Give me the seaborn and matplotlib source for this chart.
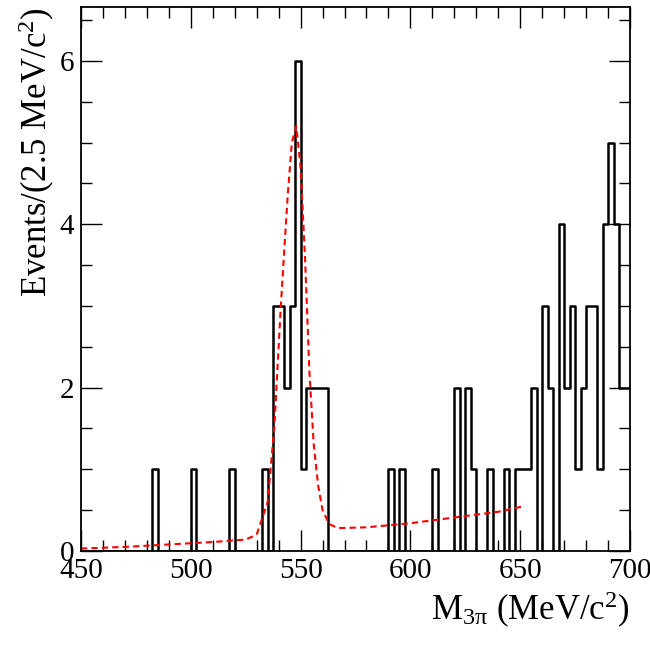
import numpy as np
import pandas as pd
import matplotlib
matplotlib.use("Agg")
import matplotlib.pyplot as plt
import seaborn as sns
from matplotlib.ticker import MultipleLocator

sns.set_style("ticks")
plt.rcParams['font.family'] = ['Liberation Serif', 'DejaVu Serif']
plt.rcParams['mathtext.fontset'] = 'custom'
plt.rcParams['mathtext.rm'] = 'Liberation Serif'
plt.rcParams['mathtext.it'] = 'Liberation Serif:italic'
for k in ['text.color', 'axes.labelcolor', 'xtick.color', 'ytick.color', 'axes.edgecolor']:
    plt.rcParams[k] = 'black'

# bin left edges (MeV) with non-zero counts, bin width 2.5
bin_lo = [482.5, 500, 517.5, 532.5, 537.5, 540, 542.5, 545, 547.5, 550,
          552.5, 555, 557.5, 560, 590, 595, 610, 620, 625, 627.5, 635,
          642.5, 647.5, 650, 652.5, 655, 660, 662.5, 667.5, 670, 672.5,
          675, 677.5, 680, 682.5, 685, 687.5, 690, 692.5, 695, 697.5]
counts = [1, 1, 1, 1, 3, 3, 2, 3, 6, 1,
          2, 2, 2, 2, 1, 1, 1, 2, 2, 1, 1,
          1, 1, 1, 1, 2, 3, 2, 4, 2, 3,
          1, 2, 3, 3, 1, 4, 5, 4, 2, 2]

fit_x = [450, 470, 490, 510, 525, 530, 535, 538, 541, 544, 546, 548, 550,
         552, 554, 556, 558, 560, 563, 567, 580, 600, 620, 640, 652]
fit_y = [0.03, 0.05, 0.08, 0.11, 0.14, 0.2, 0.6, 1.5, 3.0, 4.3, 5.0, 5.2, 4.7,
         3.6, 2.2, 1.3, 0.8, 0.5, 0.33, 0.28, 0.29, 0.34, 0.41, 0.48, 0.55]

df = pd.DataFrame({"m": np.array(bin_lo) + 1.25, "w": counts})

fig = plt.figure(figsize=(6.5, 6.46), dpi=100)
ax = fig.add_axes([81/650, 95/646, 549/650, 544/646])

sns.histplot(data=df, x="m", weights="w", binwidth=2.5, binrange=(450, 700),
             element="step", fill=False, color="black", linewidth=1.8, ax=ax)
sns.lineplot(x=fit_x, y=fit_y, color="red", linestyle=(0, (3, 2)),
             linewidth=1.5, ax=ax)

ax.set_xlim(450, 700)
ax.set_ylim(0, 6.66)
ax.xaxis.set_major_locator(MultipleLocator(50))
ax.xaxis.set_minor_locator(MultipleLocator(10))
ax.yaxis.set_major_locator(MultipleLocator(2))
ax.yaxis.set_minor_locator(MultipleLocator(0.5))
ax.tick_params(which='both', direction='in', top=True, right=True, labelsize=21)
ax.tick_params(which='major', length=15, width=1, pad=5)
ax.tick_params(which='minor', length=8, width=1)
for s in ax.spines.values():
    s.set_linewidth(1.3)
ax.set_xlabel(r'M$_{\mathrm{3π}}$ (MeV/c$^{2}$)', fontsize=25, loc='right', labelpad=4)
ax.set_ylabel(r'Events/(2.5 MeV/c$^{2}$)', fontsize=25, loc='top', labelpad=2)
fig.savefig("out.png", dpi=100)
